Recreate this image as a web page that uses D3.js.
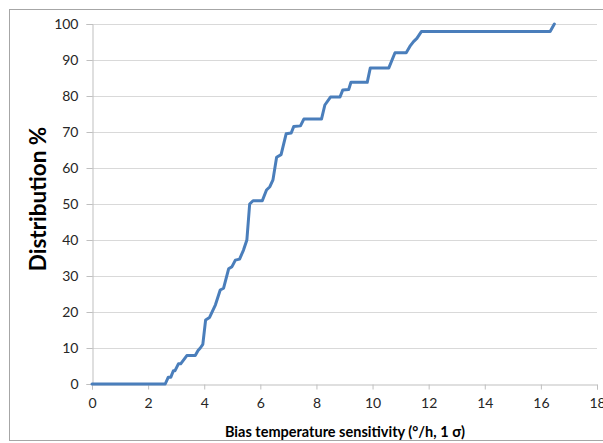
<!DOCTYPE html>
<html>
<head>
<meta charset="utf-8">
<script src="https://cdn.jsdelivr.net/npm/d3@7"></script>
<style>
  body { margin: 0; background: #fff; }
  text { font-family: Lato, "Open Sans", sans-serif; }
</style>
</head>
<body>
<div id="chart"></div>
<script>
// sensitivity values (deg/h, 1 sigma) and cumulative distribution (%)
var sensitivity = [0, 2.61, 2.72, 2.81, 2.9, 2.96, 3.08, 3.16, 3.38, 3.68, 3.78, 3.86, 3.95, 4.05, 4.19, 4.4,
  4.57, 4.69, 4.87, 4.99, 5.11, 5.26, 5.4, 5.52, 5.62, 5.74, 6.07, 6.22, 6.34, 6.45, 6.58, 6.74, 6.92,
  7.1, 7.19, 7.43, 7.55, 8.18, 8.3, 8.5, 8.84, 8.94, 9.15, 9.23, 9.81, 9.92, 10.58, 10.8, 11.2, 11.35,
  11.46, 11.58, 11.74, 16.33, 16.48]
var distribution = [0, 0, 1.9, 1.9, 3.7, 3.7, 5.6, 5.6, 7.9, 7.9, 9.3, 10, 11, 17.8, 18.5, 22,
  26.1, 26.6, 32, 32.6, 34.4, 34.7, 37.2, 40, 50, 50.9, 50.9, 53.9, 54.8, 56.7, 63, 63.7, 69.5,
  69.7, 71.5, 71.7, 73.6, 73.6, 77.5, 79.7, 79.7, 81.7, 81.8, 83.8, 83.8, 87.8, 87.8, 92, 92, 94,
  95.1, 96, 97.9, 97.9, 100]
var xTicks = [0, 2, 4, 6, 8, 10, 12, 14, 16, 18]
var yTicks = [0, 10, 20, 30, 40, 50, 60, 70, 80, 90, 100]

var width = 603,
  height = 443

var svg = d3.select("#chart")
  .append("svg")
  .attr("width", width)
  .attr("height", height)

// chart frame
svg.append("rect")
  .attr("x", 9.5)
  .attr("y", 9.5)
  .attr("width", 600)
  .attr("height", 431)
  .attr("fill", "#fff")
  .attr("stroke", "#a6a6a6")

var x = d3.scaleLinear().domain([0, 18]).range([92, 597])
var y = d3.scaleLinear().domain([0, 100]).range([384, 24])

// gridlines
svg.append("g")
  .selectAll("line")
  .data(yTicks.slice(1))
  .enter()
  .append("line")
  .attr("x1", x(0))
  .attr("x2", x(18))
  .attr("y1", function (d) { return Math.round(y(d)) + 0.5 })
  .attr("y2", function (d) { return Math.round(y(d)) + 0.5 })
  .attr("stroke", "#d9d9d9")

var xAxis = svg.append("g")
  .attr("transform", "translate(0," + (Math.round(y(0)) + 0.5) + ")")
  .call(d3.axisBottom(x).tickValues(xTicks).tickSize(5).tickPadding(9))

var yAxis = svg.append("g")
  .attr("transform", "translate(" + (Math.round(x(0)) + 0.5) + ",0)")
  .call(d3.axisLeft(y).tickValues(yTicks).tickSize(6).tickPadding(8))

svg.selectAll(".domain").attr("stroke", "#bfbfbf")
svg.selectAll(".tick line").attr("stroke", "#bfbfbf")
svg.selectAll(".tick text")
  .attr("fill", "#262626")
  .style("font-size", "14px")
  .style("font-family", "Lato, 'Open Sans', sans-serif")

var points = sensitivity.map(function (d, i) { return [d, distribution[i]] })

var line = d3.line()
  .x(function (d) { return x(d[0]) })
  .y(function (d) { return y(d[1]) })

svg.append("path")
  .datum(points)
  .attr("d", line)
  .attr("fill", "none")
  .attr("stroke", "#4a7ebb")
  .attr("stroke-width", 3)
  .attr("stroke-linejoin", "round")
  .attr("stroke-linecap", "round")

// axis titles
svg.append("text")
  .attr("x", 345)
  .attr("y", 437)
  .attr("text-anchor", "middle")
  .style("font-size", "14.5px")
  .style("font-weight", "bold")
  .attr("fill", "#000")
  .text("Bias temperature sensitivity (°/h, 1 σ)")

svg.append("text")
  .attr("transform", "translate(46,199) rotate(-90)")
  .attr("text-anchor", "middle")
  .style("font-size", "22.5px")
  .style("font-weight", "bold")
  .attr("fill", "#000")
  .text("Distribution %")
</script>
</body>
</html>
